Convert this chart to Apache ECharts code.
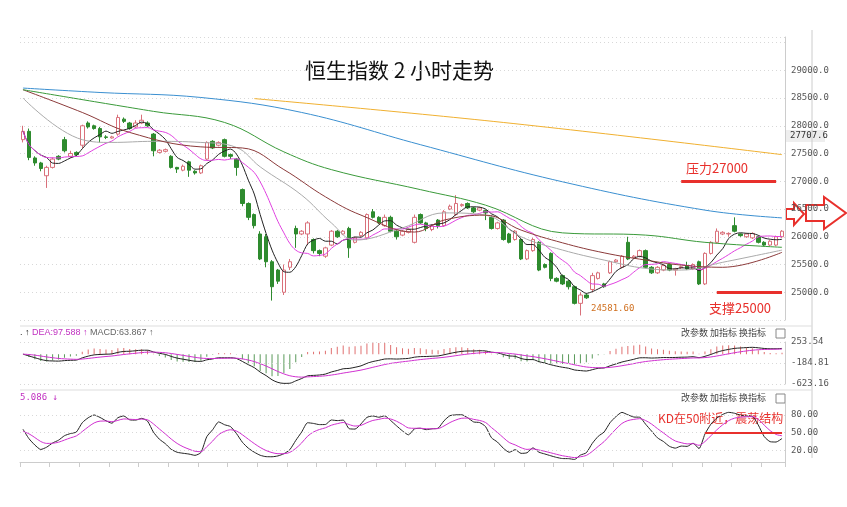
<!DOCTYPE html>
<html>
<head>
<meta charset="utf-8">
<script src="https://cdn.jsdelivr.net/npm/echarts@6/dist/echarts.min.js"></script>
</head>
<body style="margin:0;background:#fff">
<div id="main" style="width:847px;height:507px;"></div>
<script type="text/javascript">
// 2小时K线 [开, 收, 低, 高]
var candles = [
 [27750,27900,27700,28000],[27900,27430,27380,27950],[27420,27330,27280,27450],[27330,27230,27180,27350],
 [27100,27250,26880,27280],[27250,27400,27230,27430],[27450,27400,27380,27470],[27750,27550,27520,27800],
 [27450,27500,27420,27550],[27520,27480,27450,27540],[27650,28000,27600,28020],[28050,27980,27950,28080],
 [28000,27950,27930,28020],[27950,27800,27700,27980],[27800,27790,27760,27830],[27780,27800,27770,27820],
 [27850,28150,27820,28200],[28120,28080,28050,28150],[28050,27950,27930,28070],[27980,28050,27960,28100],
 [28050,28100,28030,28200],[28050,28000,27980,28080],[27850,27550,27450,27870],[27520,27560,27500,27580],
 [27540,27570,27520,27590],[27450,27250,27230,27470],[27250,27220,27150,27260],[27200,27270,27180,27300],
 [27350,27200,27080,27370],[27180,27150,27120,27200],[27150,27280,27130,27300],[27400,27700,27380,27720],
 [27720,27600,27580,27740],[27650,27700,27630,27720],[27750,27450,27430,27770],[27480,27450,27400,27500],
 [27400,27250,27100,27420],[26850,26600,26550,26870],[26600,26350,26300,26620],[26400,26200,26150,26420],
 [26050,25600,25580,26100],[26000,25550,25450,26050],[25550,25100,24850,25580],[25400,25200,25150,25420],
 [25000,25400,24950,25500],[25450,25550,25400,25600],[26150,26050,25800,26200],[26050,26100,26030,26120],
 [26050,26250,25850,26280],[25950,25750,25700,25970],[25750,25700,25650,25770],[25650,25800,25620,25820],
 [25850,26100,25830,26120],[26100,26000,25980,26120],[26050,26100,26030,26120],[26150,25800,25620,26180],
 [25900,25980,25880,26000],[26020,26080,26000,26100],[25980,26400,25950,26420],[26450,26350,26330,26500],
 [26350,26250,26230,26370],[26200,26350,26180,26400],[26350,26100,26080,26380],[26100,26000,25950,26120],
 [26030,26100,26010,26120],[26080,26130,26060,26150],[25900,26350,25880,26400],[26400,26250,26230,26420],
 [26250,26150,26100,26270],[26130,26200,26100,26220],[26300,26200,26150,26320],[26200,26450,26180,26480],
 [26500,26550,26480,26580],[26400,26600,26380,26750],[26560,26580,26540,26600],[26600,26520,26500,26620],
 [26520,26450,26430,26540],[26480,26520,26460,26540],[26470,26430,26300,26490],[26350,26150,26130,26380],
 [26150,26250,26130,26270],[26300,25950,25930,26320],[26050,25900,25880,26070],[25950,26100,25930,26120],
 [25950,25600,25580,25970],[25600,25750,25580,25770],[25750,25950,25730,25980],[25900,25400,25380,25920],
 [25500,25450,25430,25520],[25700,25250,25200,25720],[25250,25200,25180,25270],[25300,25150,25130,25320],
 [25200,25100,25050,25220],[25100,24800,24780,25120],[24800,24950,24581.6,25000],[24950,24900,24880,24980],
 [25050,25300,25000,25350],[25250,25350,25230,25370],[25150,25100,25080,25170],[25350,25550,25330,25570],
 [25550,25580,25530,25600],[25450,25650,25430,25670],[25900,25600,25580,26000],[25620,25650,25600,25670],
 [25650,25750,25630,25770],[25750,25450,25430,25770],[25450,25350,25330,25470],[25350,25450,25330,25470],
 [25400,25480,25380,25500],[25500,25400,25380,25520],[25400,25420,25300,25440],[25440,25460,25420,25480],
 [25480,25420,25400,25550],[25420,25500,25400,25520],[25550,25150,25130,25570],[25150,25700,25130,25720],
 [25700,25900,25680,25920],[25900,26100,25880,26150],[26050,26080,26030,26100],[26050,26060,26000,26080],
 [26200,26100,26080,26350],[26050,26020,26000,26060],[26000,26050,25980,26070],[25980,26060,25960,26080],
 [26000,25900,25880,26020],[25900,25850,25830,25920],[25850,25920,25830,25940],[25850,26000,25830,26020],
 [26000,26100,25980,26120]
];

// 长周期均线读数 [K线序号, 值]
var maGray  = [[0,28500],[10,27750],[15,27700],[22,27720],[30,27700],[36,27610],[40,27260],[47,26750],[52,26250],[56,25940],[64,26160],[71,26430],[78,26390],[84,26000],[91,25760],[98,25580],[105,25430],[111,25400],[118,25540],[128,25760]];
var maBrown = [[0,28650],[10,28240],[18,27880],[30,27620],[37,27600],[44,27210],[51,26720],[57,26390],[66,26085],[71,26300],[78,26390],[84,26120],[91,25890],[98,25710],[105,25580],[111,25490],[118,25450],[128,25720]];
var maGreen = [[0,28650],[22,28260],[34,28060],[44,27530],[52,27210],[67,26850],[78,26570],[91,26070],[105,26030],[115,25900],[128,25810]];
var maBlue  = [[0,28680],[13,28600],[30,28510],[47,28240],[67,27660],[91,26990],[115,26480],[128,26340]];
var maOrange = [[39,28490],[81,28060],[128,27480]];

var priceTicks = [25000, 25500, 26000, 26500, 27000, 27500, 28000, 28500, 29000];
var macdTicks = [-623.16, -184.81, 253.54];
var kdTicks = [20, 50, 80];

var n = candles.length;
var cats = candles.map(function (c, i) { return i; });
var closes = candles.map(function (c) { return c[1]; });

function sparse(pts) {
    var a = new Array(n).fill(null);
    pts.forEach(function (p) { a[p[0]] = p[1]; });
    return a;
}
function ma(len) {
    return closes.map(function (c, i) {
        var s = 0, k = 0;
        for (var j = Math.max(0, i - len + 1); j <= i; j++) { s += closes[j]; k++; }
        return +(s / k).toFixed(1);
    });
}
// MACD
var e12 = closes[0], e26 = closes[0], dea = 0, dif = [], deaArr = [], hist = [];
closes.forEach(function (c) {
    e12 = e12 * 11 / 13 + c * 2 / 13;
    e26 = e26 * 25 / 27 + c * 2 / 27;
    var d = e12 - e26;
    dea = dea * 8 / 10 + d * 2 / 10;
    dif.push(+d.toFixed(2)); deaArr.push(+dea.toFixed(2)); hist.push(+(2 * (d - dea)).toFixed(2));
});
// KD(9,3,3)
var kArr = [], dArr = [], kv = 50, dv = 50;
candles.forEach(function (c, i) {
    var lo = Infinity, hi = -Infinity;
    for (var j = Math.max(0, i - 8); j <= i; j++) { lo = Math.min(lo, candles[j][2]); hi = Math.max(hi, candles[j][3]); }
    var rsv = hi === lo ? 50 : (c[1] - lo) / (hi - lo) * 100;
    kv = kv * 2 / 3 + rsv / 3; dv = dv * 2 / 3 + kv / 3;
    kArr.push(+kv.toFixed(2)); dArr.push(+dv.toFixed(2));
});

var lab = { color: '#555', fontSize: 9, fontFamily: 'DejaVu Sans Mono', margin: 6 };
function line(data, color, idx, smooth) {
    return { type: 'line', data: data, xAxisIndex: idx || 0, yAxisIndex: idx || 0, symbol: 'none',
        connectNulls: true, smooth: smooth === undefined ? 0.4 : smooth, lineStyle: { color: color, width: 1 }, silent: true };
}
var red = { color: '#e8302c', width: 3, type: 'solid' };

var myChart = echarts.init(document.getElementById('main'));
var option = {
    animation: false,
    grid: [
        { left: 20, right: 62, top: 37, height: 283 },
        { left: 20, right: 62, top: 342, height: 42 },
        { left: 20, right: 62, top: 403, height: 59 }
    ],
    xAxis: [0, 1, 2].map(function (i) {
        return { type: 'category', data: cats, gridIndex: i, boundaryGap: true,
            axisLine: { show: i === 2, lineStyle: { color: '#ccc' } }, axisTick: { show: i === 2, interval: 4, lineStyle: { color: '#ccc' } },
            axisLabel: { show: false }, splitLine: { show: false } };
    }),
    yAxis: [
        { gridIndex: 0, position: 'right', min: 24500, max: 29600, interval: 500,
          axisLine: { show: true, lineStyle: { color: '#ccc' } }, axisTick: { show: false },
          axisLabel: Object.assign({ formatter: function (v) { return priceTicks.indexOf(v) >= 0 ? v.toFixed(1) : ''; } }, lab),
          splitLine: { show: true, lineStyle: { color: '#d8d8d8', type: [1, 3] } } },
        { gridIndex: 1, position: 'right', min: -623.16, max: 253.54,
          axisLine: { show: true, lineStyle: { color: '#ccc' } }, axisTick: { show: false },
          axisLabel: Object.assign({ customValues: macdTicks, formatter: function (v) { return v.toFixed(2); } }, lab),
          splitLine: { show: false } },
        { gridIndex: 2, position: 'right', min: 0, max: 100,
          axisLine: { show: true, lineStyle: { color: '#ccc' } }, axisTick: { show: false },
          axisLabel: Object.assign({ customValues: kdTicks, formatter: function (v) { return v.toFixed(2); } }, lab),
          splitLine: { show: false } }
    ],
    series: [
        // MACD / KD 面板虚线
        { type: 'line', xAxisIndex: 1, yAxisIndex: 1, data: [], markLine: { symbol: 'none', silent: true, label: { show: false },
            lineStyle: { color: '#d8d8d8', type: [1, 3], width: 1 }, data: macdTicks.map(function (v) { return { yAxis: v }; }) } },
        { type: 'line', xAxisIndex: 2, yAxisIndex: 2, data: [], markLine: { symbol: 'none', silent: true, label: { show: false },
            lineStyle: { color: '#d8d8d8', type: [1, 3], width: 1 }, data: kdTicks.map(function (v) { return { yAxis: v }; }) } },
        { type: 'candlestick', data: candles.map(function (c) { return [c[0], c[1], c[2], c[3]]; }), barWidth: 4,
          itemStyle: { color: '#fff', color0: '#2e8b2e', borderColor: '#d9707a', borderColor0: '#2e8b2e', borderWidth: 1 },
          markLine: { symbol: 'none', silent: true, label: { show: false }, lineStyle: red,
            data: [ [{ coord: [111, 27000] }, { coord: [127, 27000] }], [{ coord: [117, 25000] }, { coord: [128, 25000] }] ] } },
        line(ma(5), '#222', 0, 0.3),
        line(ma(10), '#e040e0', 0, 0.4),
        line(sparse(maGray), '#aaa'),
        line(sparse(maBrown), '#8b3a3a'),
        line(sparse(maGreen), '#3a9a3a'),
        line(sparse(maBlue), '#3a8fd0'),
        line(sparse(maOrange), '#f0b030'),
        { type: 'bar', xAxisIndex: 1, yAxisIndex: 1, data: hist, barWidth: 1,
          itemStyle: { color: function (p) { return p.value >= 0 ? '#e07070' : '#5a9a5a'; } } },
        line(dif, '#222', 1, 0.3),
        line(deaArr, '#d030d0', 1, 0.3),
        Object.assign(line(kArr, '#222', 2, 0.2), {
          markLine: { symbol: 'none', silent: true, label: { show: false }, lineStyle: { color: '#e8302c', width: 2, type: 'solid' },
            data: [ [{ coord: [115, 50] }, { coord: [128, 50] }] ] } }),
        line(dArr, '#d030d0', 2, 0.3)
    ],
    graphic: [
        { type: 'text', left: 305, top: 60, style: { text: '恒生指数 2 小时走势', fontSize: 21, fill: '#111', fontFamily: 'Noto Sans CJK SC' } },
        { type: 'text', left: 686, top: 162, style: { text: '压力27000', fontSize: 13, fill: '#e8302c', fontFamily: 'Noto Sans CJK SC' } },
        { type: 'text', left: 709, top: 302, style: { text: '支撑25000', fontSize: 13, fill: '#e8302c', fontFamily: 'Noto Sans CJK SC' } },
        { type: 'text', left: 591, top: 304, style: { text: '24581.60', fontSize: 9, fill: '#d07020', fontFamily: 'DejaVu Sans Mono' } },
        { type: 'text', left: 658, top: 412, style: { text: 'KD在50附近，震荡结构', fontSize: 12, fill: '#e8302c', fontFamily: 'Noto Sans CJK SC' } },
        { type: 'rect', shape: { x: 785, y: 130, width: 40, height: 12 }, style: { fill: '#eee' } },
        { type: 'text', left: 790, top: 131, style: { text: '27707.6', fontSize: 9, fill: '#333', fontFamily: 'DejaVu Sans Mono' } },
        { type: 'line', shape: { x1: 812, y1: 30, x2: 812, y2: 458 }, style: { stroke: '#ccc' } },
        { type: 'line', shape: { x1: 20, y1: 326, x2: 812, y2: 326 }, style: { stroke: '#ddd' } },
        { type: 'line', shape: { x1: 20, y1: 390, x2: 812, y2: 390 }, style: { stroke: '#ddd' } },
        { type: 'text', left: 20, top: 328, style: { rich: { a: { fill: '#222', fontSize: 9 }, b: { fill: '#c030c0', fontSize: 9 }, c: { fill: '#666', fontSize: 9 } },
            text: '{a|. ↑ }{b|DEA:97.588 ↑ }{c|MACD:63.867 ↑}', fontFamily: 'DejaVu Sans Mono' } },
        { type: 'text', left: 20, top: 393, style: { text: '5.086 ↓', fontSize: 9, fill: '#c030c0', fontFamily: 'DejaVu Sans Mono' } },
        { type: 'text', left: 681, top: 328, style: { text: '改参数 加指标 换指标', fontSize: 9, fill: '#444', fontFamily: 'Noto Sans CJK SC' } },
        { type: 'text', left: 681, top: 393, style: { text: '改参数 加指标 换指标', fontSize: 9, fill: '#444', fontFamily: 'Noto Sans CJK SC' } },
        { type: 'rect', shape: { x: 776, y: 329, width: 9, height: 9 }, style: { fill: '#fff', stroke: '#888' } },
        { type: 'rect', shape: { x: 776, y: 394, width: 9, height: 9 }, style: { fill: '#fff', stroke: '#888' } },
        { type: 'polygon', shape: { points: [[786, 209], [794, 209], [794, 203], [804, 214], [794, 225], [794, 219], [786, 219]] }, style: { fill: 'none', stroke: '#e8302c', lineWidth: 2 } },
        { type: 'polygon', shape: { points: [[806, 205], [824, 205], [824, 197], [846, 213], [824, 229], [824, 221], [806, 221]] }, style: { fill: 'none', stroke: '#e8302c', lineWidth: 2 } }
    ]
};
myChart.setOption(option);
</script>
</body>
</html>
